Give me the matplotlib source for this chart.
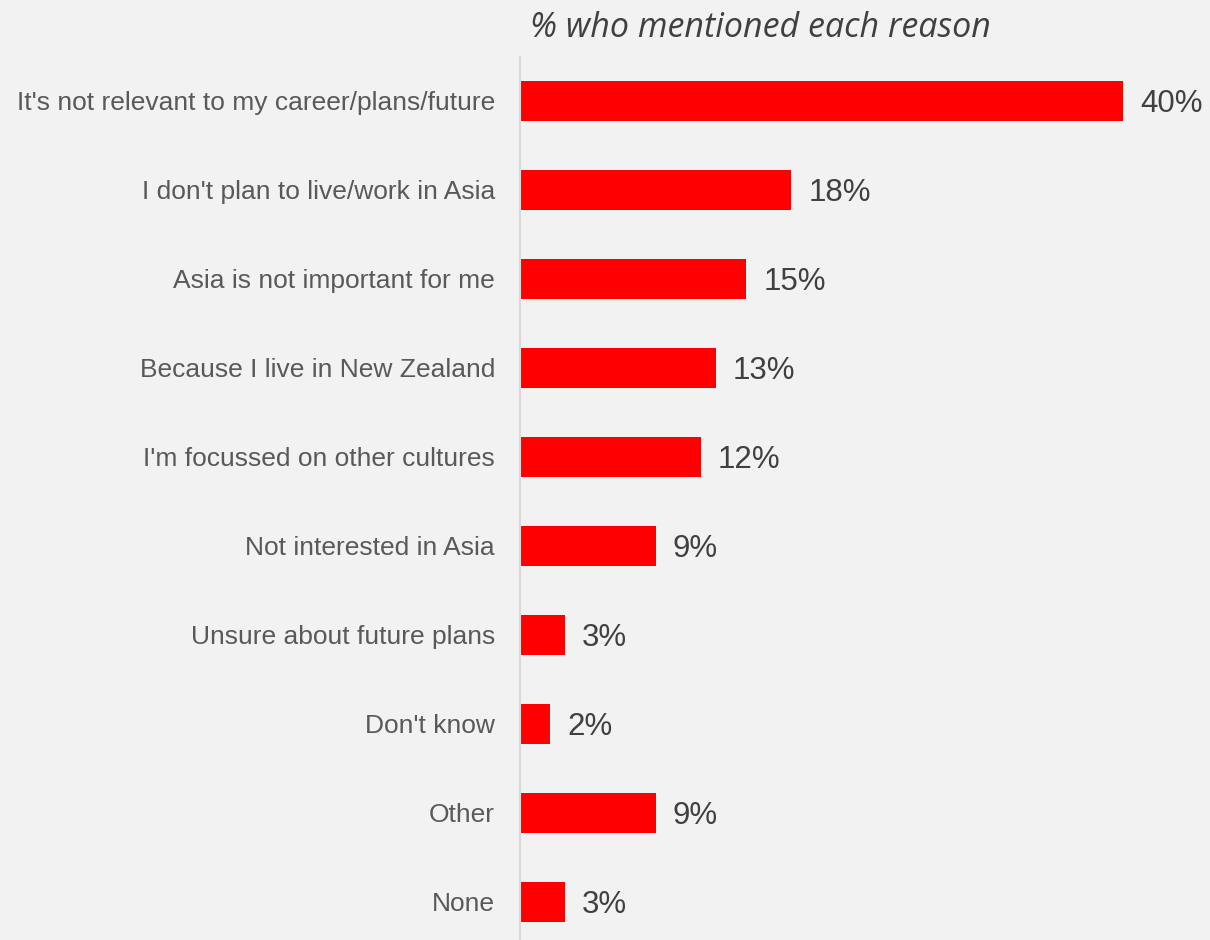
import matplotlib
matplotlib.use("Agg")
import matplotlib.pyplot as plt
from matplotlib.transforms import offset_copy

categories = [
    "It's not relevant to my career/plans/future",
    "I don't plan to live/work in Asia",
    "Asia is not important for me",
    "Because I live in New Zealand",
    "I'm focussed on other cultures",
    "Not interested in Asia",
    "Unsure about future plans",
    "Don't know",
    "Other",
    "None",
]
values = [40, 18, 15, 13, 12, 9, 3, 2, 9, 3]
value_labels = ["40%", "18%", "15%", "13%", "12%", "9%", "3%", "2%", "9%", "3%"]
title = "% who mentioned each reason"

W, H = 1210, 940
fig = plt.figure(figsize=(W / 100, H / 100), dpi=100)
bg = "#f2f2f2"
fig.patch.set_facecolor(bg)
ax = fig.add_axes([520 / W, 0, (W - 520) / W, (940 - 57) / H])
ax.set_facecolor(bg)

y = list(range(len(categories)))
ax.barh(y, values, height=0.45, color="#ff0000", edgecolor="none")
ax.set_xlim(0, (W - 520) / 15.08)
ax.set_ylim(9.427, -0.494)

for s in ["top", "right", "bottom"]:
    ax.spines[s].set_visible(False)
ax.spines["left"].set_color("#d9d9d9")
ax.spines["left"].set_linewidth(1.5)
ax.set_xticks([])
ax.set_yticks(y)
ax.set_yticklabels(categories, fontfamily="Liberation Sans", fontsize=19, color="#595959")
ax.tick_params(axis="y", length=0, pad=18)

trans = offset_copy(ax.transData, fig=fig, x=17, y=-3, units="dots")
for yi, v, lab in zip(y, values, value_labels):
    ax.text(v, yi, lab, transform=trans, ha="left", va="center",
            fontfamily="Liberation Sans", fontsize=22.5, color="#404040")

fig.text(760 / W, 1 - 28 / H, title, ha="center", va="center",
         fontfamily="Open Sans", style="italic", fontsize=24.5, color="#404040")

fig.savefig("out.png", dpi=100, facecolor=bg)
